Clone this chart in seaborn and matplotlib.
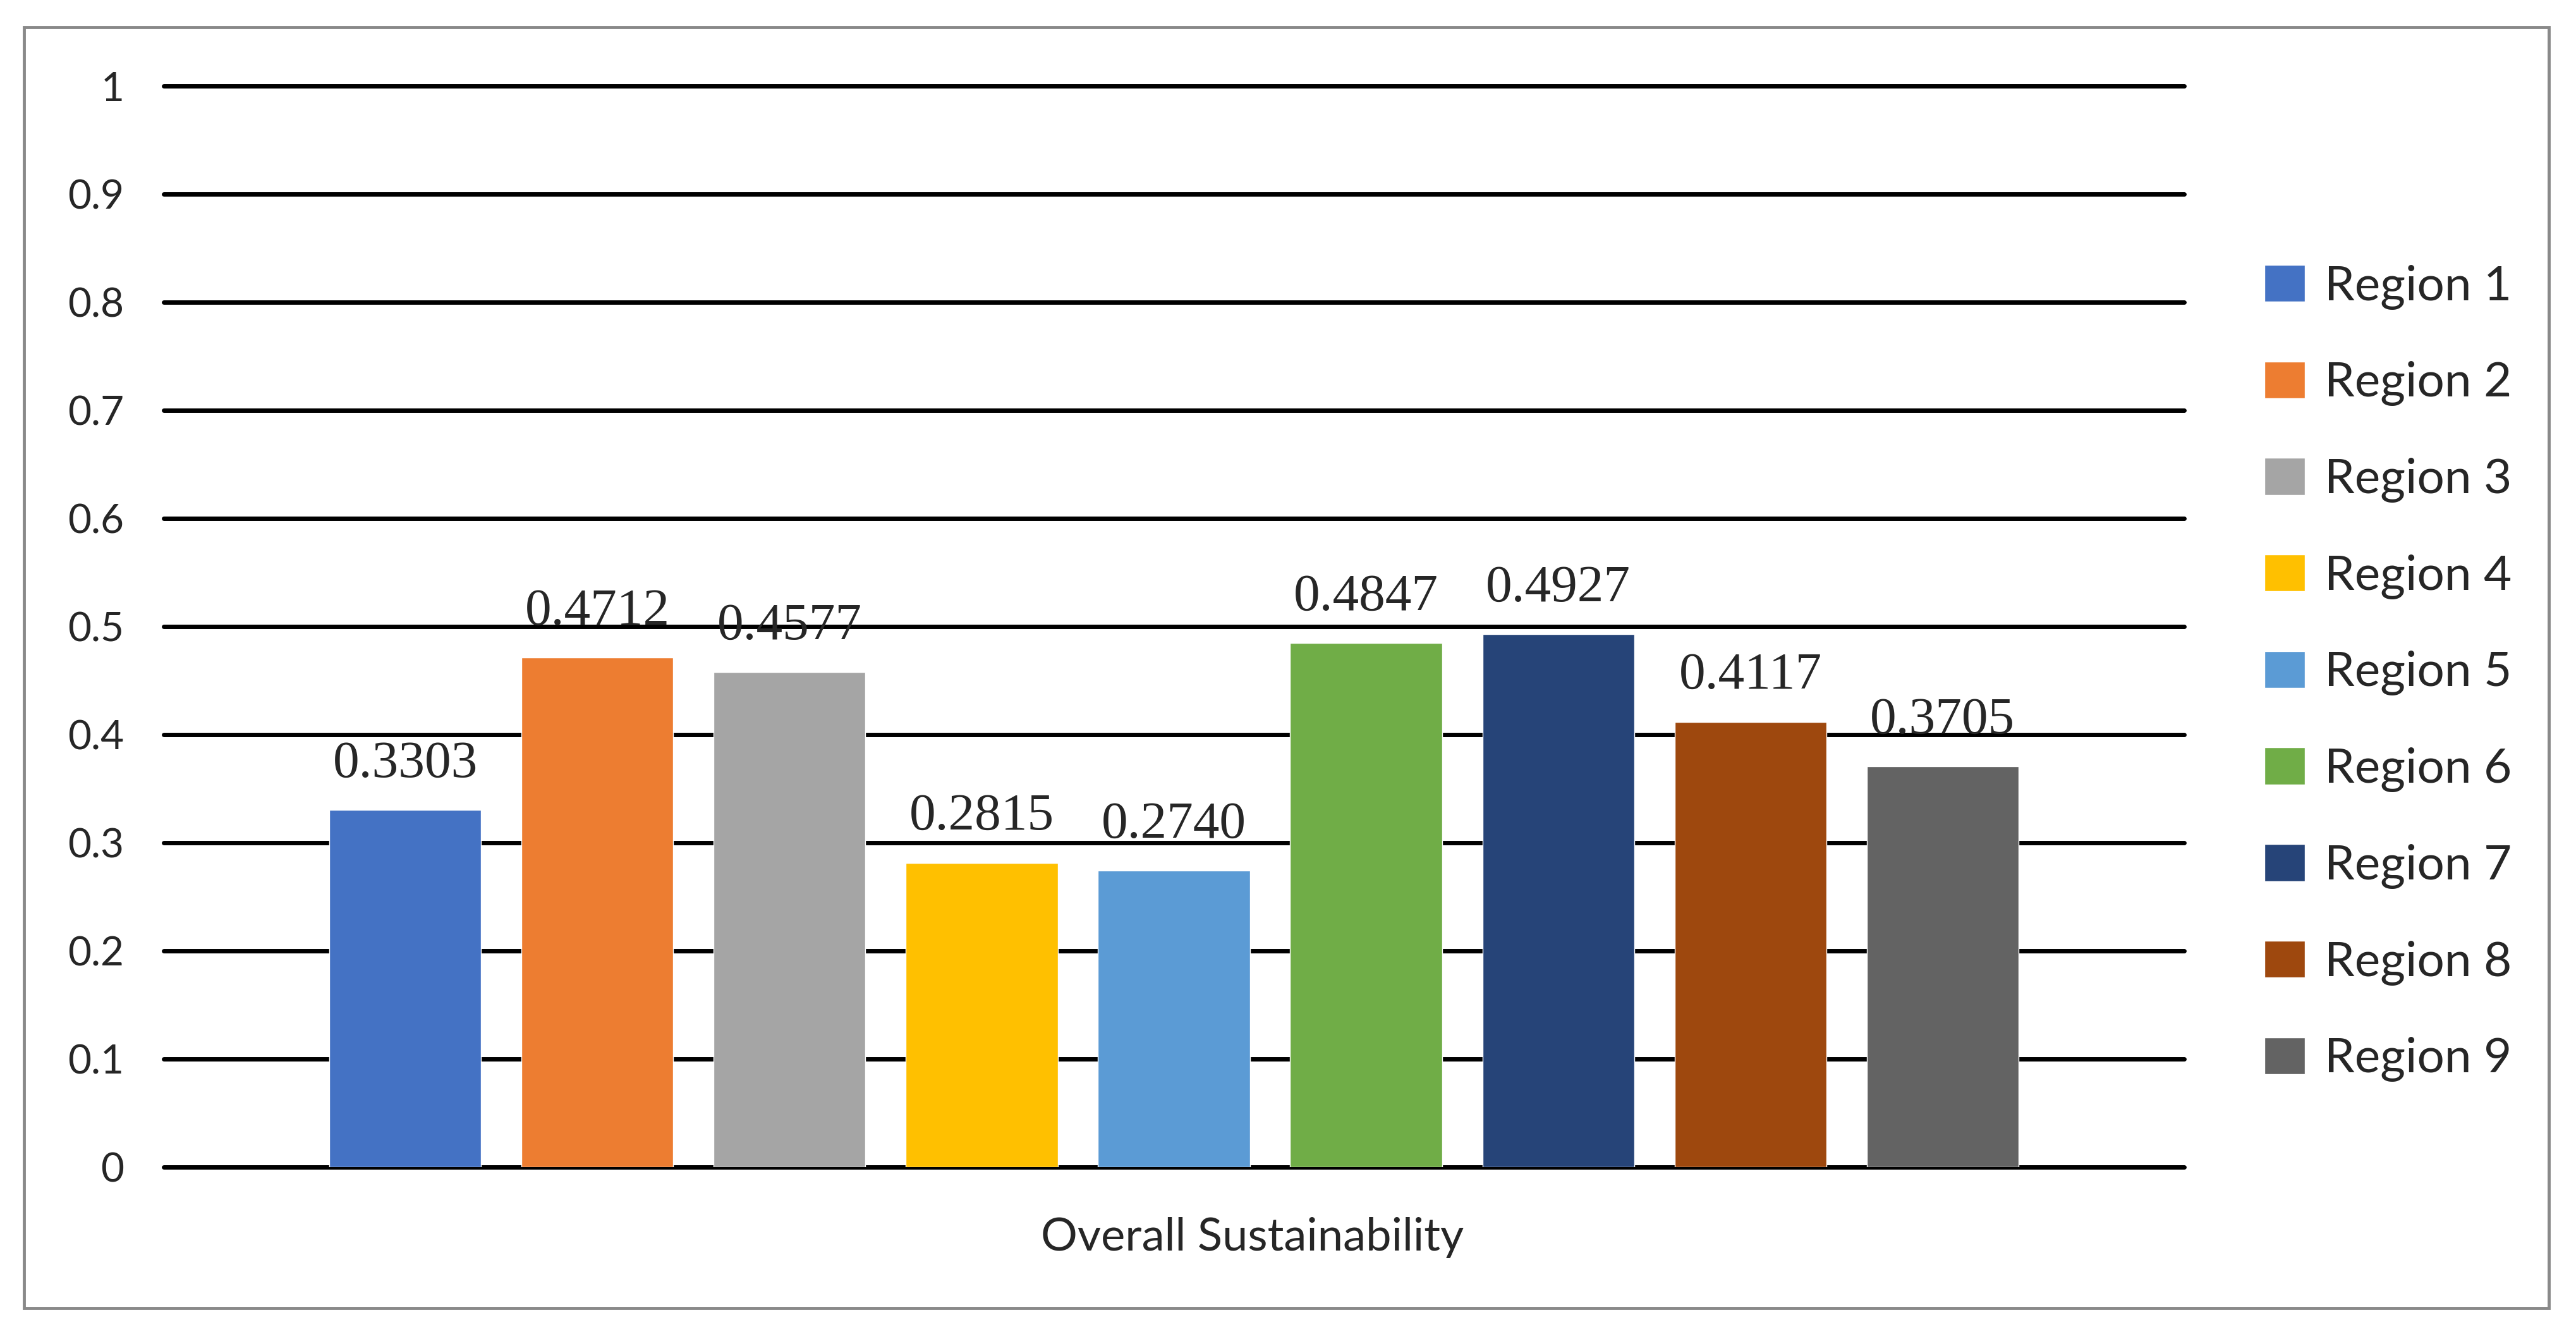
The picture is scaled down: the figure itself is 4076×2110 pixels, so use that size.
import pandas as pd
import matplotlib.pyplot as plt
import seaborn as sns
from matplotlib.patches import Rectangle

regions = ['Region 1', 'Region 2', 'Region 3', 'Region 4', 'Region 5',
           'Region 6', 'Region 7', 'Region 8', 'Region 9']
scores = [0.3303, 0.4712, 0.4577, 0.2815, 0.2740, 0.4847, 0.4927, 0.4117, 0.3705]
category = 'Overall Sustainability'
colors = ['#4472C4', '#ED7D31', '#A5A5A5', '#FFC000', '#5B9BD5',
          '#70AD47', '#264478', '#9E480E', '#636363']
yticks = [0, 0.1, 0.2, 0.3, 0.4, 0.5, 0.6, 0.7, 0.8, 0.9, 1]

data = pd.DataFrame({'Category': category, 'Region': regions, 'Score': scores})

sns.set_theme(style='white')
plt.rcParams['font.family'] = ['Lato', 'DejaVu Sans']

fig = plt.figure(figsize=(40.76, 21.1), dpi=100)
ax = fig.add_axes([259 / 4076, 1 - 1846 / 2110, (3456 - 259) / 4076, (1846 - 136) / 2110])

sns.barplot(data=data, x='Category', y='Score', hue='Region', palette=colors,
            width=0.856, gap=0.21, saturation=1, ax=ax, legend=True)

ax.set_ylim(0, 1)
ax.set_xlim(-0.5, 0.5)
ax.set_yticks(yticks)
ax.set_yticklabels(['0' if t == 0 else ('1' if t == 1 else f'{t:g}') for t in yticks], fontsize=46)
ax.tick_params(axis='y', length=0, pad=45)
ax.set_xticks([])
ax.set_xlabel('')
ax.set_ylabel('')
for s in ax.spines.values():
    s.set_visible(False)
for t in yticks:
    ax.axhline(t, color='black', linewidth=5, zorder=0, clip_on=False)

# value labels above each bar (Times-like font)
for cont in ax.containers:
    ax.bar_label(cont, labels=[f'{v:.4f}' for v in cont.datavalues],
                 padding=25, fontsize=60, family='Liberation Serif')

fig.text(1982 / 4076, 1 - 1957 / 2110, category, fontsize=52, ha='center', va='center')

leg = ax.legend(loc='upper left', bbox_to_anchor=(3552 / 4076, 1 - 388 / 2110),
                bbox_transform=fig.transFigure, frameon=False, fontsize=55,
                handlelength=0.85, handleheight=0.8, handletextpad=0.4,
                labelspacing=1.07, borderaxespad=0)

# outer chart frame
fig.patches.append(Rectangle((38 / 4076, 1 - 2069 / 2110), (4033 - 38) / 4076, (2069 - 43) / 2110,
                             transform=fig.transFigure, fill=False, edgecolor='#898989', linewidth=3.5))

fig.savefig('out.png', dpi=100)
